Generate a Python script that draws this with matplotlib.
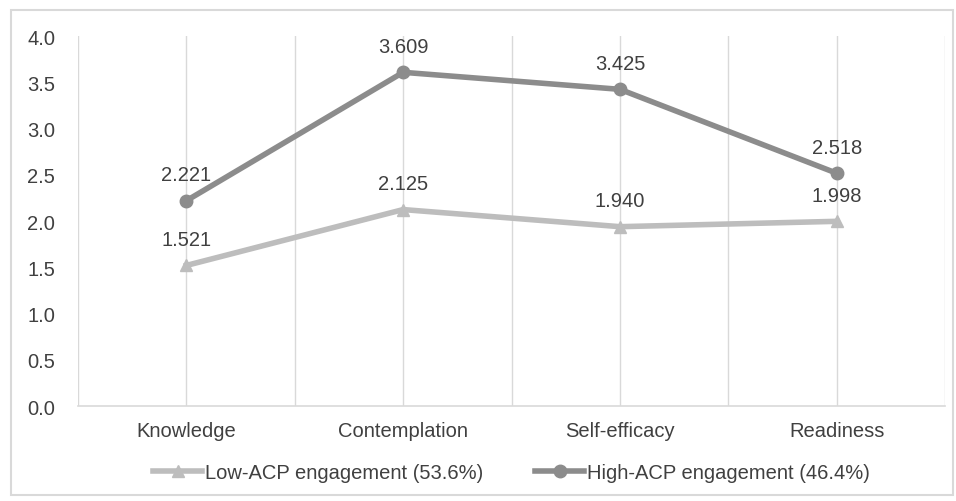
import matplotlib.pyplot as plt
from matplotlib.patches import Rectangle
import numpy as np

categories = ['Knowledge', 'Contemplation', 'Self-efficacy', 'Readiness']
low_acp = [1.521, 2.125, 1.940, 1.998]
high_acp = [2.221, 3.609, 3.425, 2.518]
low_label = 'Low-ACP engagement (53.6%)'
high_label = 'High-ACP engagement (46.4%)'

plt.rcParams['font.family'] = ['Liberation Sans', 'DejaVu Sans']
fs = 14.5

fig = plt.figure(figsize=(9.56, 5.02), dpi=100)
ax = fig.add_axes([0.0816, 0.189, 0.907, 0.737])

x = np.arange(len(categories))
ax.plot(x, low_acp, color='#bdbdbd', lw=4, marker='^', ms=9, label=low_label)
ax.plot(x, high_acp, color='#8c8c8c', lw=4, marker='o', ms=9, label=high_label)

for xi, v in zip(x, low_acp):
    ax.annotate(f'{v:.3f}', (xi, v), xytext=(0, 12), textcoords='offset points',
                ha='center', va='bottom', fontsize=fs, color='#404040')
for xi, v in zip(x, high_acp):
    ax.annotate(f'{v:.3f}', (xi, v), xytext=(0, 12), textcoords='offset points',
                ha='center', va='bottom', fontsize=fs, color='#404040')

ax.set_xlim(-0.5, len(categories) - 0.5)
ax.set_ylim(0, 4.0)
ax.set_yticks(np.arange(0, 4.01, 0.5))
ax.set_yticklabels([f'{t:.1f}' for t in np.arange(0, 4.01, 0.5)])
ax.set_xticks(x)
ax.set_xticklabels(categories)

# vertical gridlines at category centres and boundaries
for g in np.arange(-0.5, len(categories), 0.5):
    ax.axvline(g, color='#d9d9d9', lw=1, zorder=0)

for s in ['top', 'right', 'left']:
    ax.spines[s].set_visible(False)
ax.spines['bottom'].set_color('#d9d9d9')
ax.spines['bottom'].set_linewidth(1.2)
ax.tick_params(length=0, labelsize=fs, labelcolor='#404040')
ax.tick_params(axis='x', pad=11)
ax.tick_params(axis='y', pad=16.5)

ax.legend(loc='upper center', bbox_to_anchor=(0.5, -0.105), ncol=2, frameon=False,
          fontsize=fs, handlelength=2.4, columnspacing=2.6, handletextpad=0.15,
          labelcolor='#404040')

fig.patches.append(Rectangle((0.012, 0.012), 0.985, 0.966, transform=fig.transFigure,
                             fill=False, edgecolor='#d9d9d9', lw=1.5))

fig.savefig('out.png', dpi=100)
